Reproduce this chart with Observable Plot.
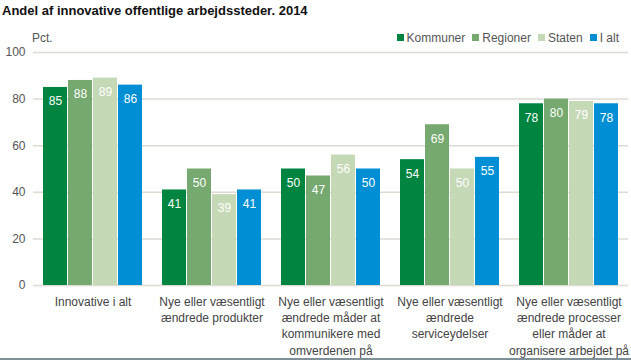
<!DOCTYPE html>
<html>
<head>
<meta charset="utf-8">
<script src="https://cdn.jsdelivr.net/npm/d3@7"></script>
<script src="https://cdn.jsdelivr.net/npm/@observablehq/plot@0.6"></script>
<style>
  body { margin: 0; background: #fff; }
  #wrap { position: relative; width: 631px; height: 362px; overflow: hidden; font-family: "Liberation Sans", Arial, sans-serif; }
  #title { height: 28px; font-weight: bold; font-size: 13px; line-height: 14px; padding: 4px 0 0 2px; box-sizing: border-box; color: #111; white-space: nowrap; }
  #row { height: 16px; position: relative; font-size: 12px; color: #555; }
  #pct { position: absolute; left: 32px; top: 3px; }
  #legend { position: absolute; right: 12px; top: 3px; display: flex; gap: 7px; white-space: nowrap; }
  #legend span.sw { display: inline-block; width: 7px; height: 7px; margin-right: 3px; vertical-align: 1px; }
  #bottom { position: absolute; left: 0; top: 358px; width: 631px; height: 2px; background: #7f9099; }
  #chart svg { display: block; overflow: visible; }
</style>
</head>
<body>
<div id="wrap">
  <div id="title">Andel af innovative offentlige arbejdssteder. 2014</div>
  <div id="row"><div id="pct">Pct.</div><div id="legend"></div></div>
  <div id="chart"></div>
  <div id="bottom"></div>
</div>
<script>
const categories = [
  "Innovative i alt",
  "Nye eller væsentligt\nændrede produkter",
  "Nye eller væsentligt\nændrede måder at\nkommunikere med\nomverdenen på",
  "Nye eller væsentligt\nændrede\nserviceydelser",
  "Nye eller væsentligt\nændrede processer\neller måder at\norganisere arbejdet på"
];
const series = ["Kommuner", "Regioner", "Staten", "I alt"];
const colors = ["#008540", "#76a96f", "#c6d9b7", "#008fd5"];
const kommuner = [85, 41, 50, 54, 78];
const regioner = [88, 50, 47, 69, 80];
const staten = [89, 39, 56, 50, 79];
const ialt = [86, 41, 50, 55, 78];
const yTicks = [0, 20, 40, 60, 80, 100];

const valuesBySeries = [kommuner, regioner, staten, ialt];
const data = [];
categories.forEach((c, i) => {
  series.forEach((s, j) => data.push({category: c, series: s, value: valuesBySeries[j][i]}));
});

// legend
const legend = document.getElementById("legend");
series.forEach((s, j) => {
  const item = document.createElement("div");
  item.innerHTML = `<span class="sw" style="background:${colors[j]}"></span>${s}`;
  legend.appendChild(item);
});

const chart = Plot.plot({
  width: 631,
  height: 314,
  marginLeft: 33,
  marginRight: 3,
  marginTop: 8,
  marginBottom: 73,
  style: {fontFamily: '"Liberation Sans", Arial, sans-serif', fontSize: "12px", overflow: "visible"},
  fx: {domain: categories, paddingInner: 0.168, paddingOuter: 0.084, label: null},
  x: {domain: series, paddingInner: 0.04, paddingOuter: 0, axis: null},
  y: {domain: [0, 100], axis: null},
  color: {domain: series, range: colors},
  marks: [
    Plot.ruleY(yTicks, {stroke: "#dddbd3", strokeWidth: 1.5, insetLeft: -10, insetRight: -10}),
    Plot.axisY(yTicks, {tickSize: 0, tickPadding: 18, fontSize: 12, fill: "#555", label: null}),
    Plot.axisFx({anchor: "bottom", tickSize: 0, tickPadding: 9, fontSize: 12, fill: "#444", lineHeight: 1.35, label: null}),
    Plot.barY(data, {fx: "category", x: "series", y: "value", fill: "series"}),
    Plot.text(data, {fx: "category", x: "series", y: "value", text: d => String(d.value), dy: 14, fill: "white", fontSize: 12})
  ]
});
document.getElementById("chart").appendChild(chart);
</script>
</body>
</html>
